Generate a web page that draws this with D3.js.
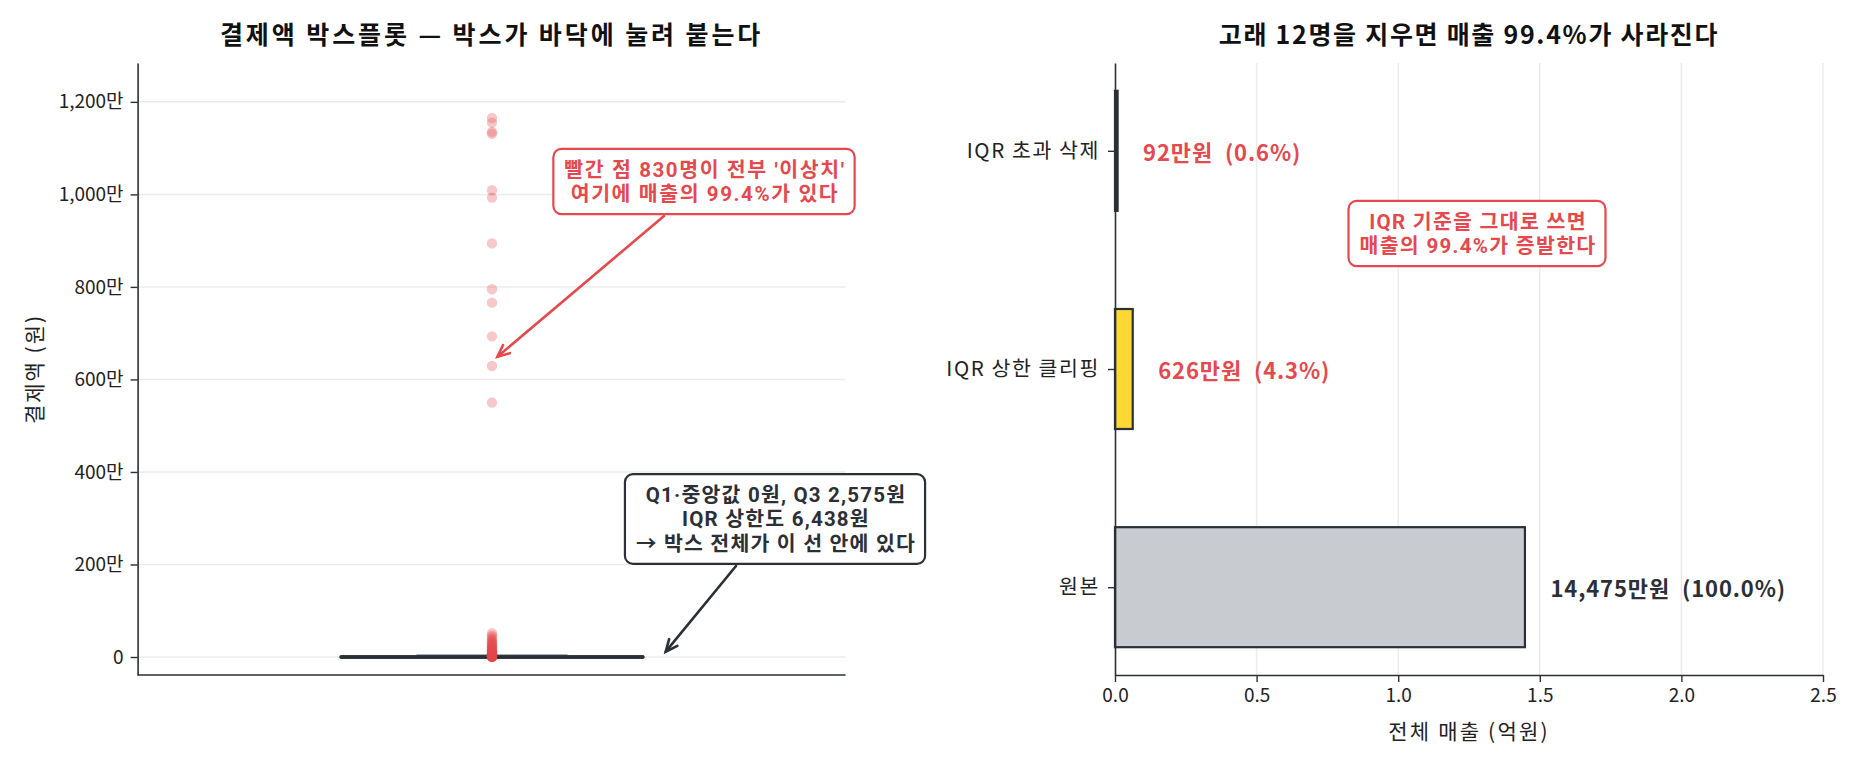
<!DOCTYPE html>
<html><head><meta charset="utf-8">
<script src="https://cdn.jsdelivr.net/npm/d3@7"></script>
<style>
body{margin:0;background:#fff;}
svg text{font-family:"Noto Sans CJK KR","Noto Sans",sans-serif;}
svg text.ann{font-family:Roboto,"Noto Sans CJK KR",sans-serif;}
</style></head><body>
<svg id="c" width="1860" height="765"></svg>
<script>
// ---------------- data ----------------
const yTicksWon = [0, 2000000, 4000000, 6000000, 8000000, 10000000, 12000000];
const yTickLabels = ["0", "200만", "400만", "600만", "800만", "1,000만", "1,200만"];
const boxQ1 = 0, boxMedian = 0, boxQ3 = 2575, whiskerLow = 0, whiskerHigh = 6438;
// 12 whales (won)
const whaleWon = [11650000, 11550000, 11350000, 11310000, 10090000, 9930000, 8940000, 7950000, 7660000, 6930000, 6290000, 5500000];
// remaining small outliers (만원), read from the dense red column near 0
const smallOutlierManwon = [0.65, 0.7, 0.75, 0.8, 0.85, 0.9, 1.0, 1.1, 1.2, 1.3, 1.4, 1.5, 1.7, 1.9, 2.1, 2.3, 2.6, 2.9, 3.2, 3.5,
  3.9, 4.3, 4.8, 5.3, 5.9, 6.5, 7.2, 8.0, 8.8, 9.7, 10.6, 11.6, 12.7, 13.9, 15.1, 16.4, 17.8, 19.3, 20.8, 22.4,
  24.1, 25.9, 27.8, 29.8, 31.9, 34.2, 36.8, 39.6, 42.9, 46.8, 51.5];
const methods = ["원본", "IQR 상한 클리핑", "IQR 초과 삭제"];
const revenueEok = [1.4475, 0.0626, 0.0092];
const revenueLabels = ["14,475만원", "626만원", "92만원"];
const revenueShares = ["(100.0%)", "(4.3%)", "(0.6%)"];
const xTicksEok = [0, 0.5, 1.0, 1.5, 2.0, 2.5];

// ---------------- style ----------------
const C = {red: "#e5484d", dark: "#2b2f36", grid: "#ebebeb", gray: "#c8cbd0", yellow: "#fdd835", cap: "#aab0b7"};
const barFill = [C.gray, C.yellow, C.dark];
const labelColor = [C.dark, C.red, C.red];

const svg = d3.select("#c");

function styleAxis(g, fs) {
  g.select(".domain").attr("stroke", C.dark).attr("stroke-width", 1.6);
  g.selectAll(".tick line").attr("stroke", C.dark).attr("stroke-width", 1.4);
  g.selectAll(".tick text").attr("fill", "#222").attr("font-size", fs);
}

function arrow(x1, y1, x2, y2, color) {
  const ang = Math.atan2(y2 - y1, x2 - x1);
  const len = 13, spread = 0.42;
  svg.append("line").attr("x1", x1).attr("y1", y1).attr("x2", x2).attr("y2", y2)
    .attr("stroke", color).attr("stroke-width", 2.6).attr("stroke-linecap", "round");
  const p = [[x2 - len * Math.cos(ang - spread), y2 - len * Math.sin(ang - spread)], [x2, y2],
             [x2 - len * Math.cos(ang + spread), y2 - len * Math.sin(ang + spread)]];
  svg.append("path").attr("d", d3.line()(p)).attr("fill", "none").attr("stroke", color)
    .attr("stroke-width", 2.6).attr("stroke-linecap", "round").attr("stroke-linejoin", "miter");
}

function annot(cx, cy, lines, color, fs, ls) {
  const g = svg.append("g");
  const lh = 24.6;
  const t = g.append("text").attr("class", "ann").attr("text-anchor", "middle").attr("fill", color)
    .attr("font-size", fs).attr("font-weight", 700).attr("letter-spacing", ls);
  lines.forEach((s, i) => {
    t.append("tspan").attr("x", cx).attr("y", cy + (i - (lines.length - 1) / 2) * lh + fs * 0.36)
      .text(s);
  });
  const bb = t.node().getBBox();
  g.insert("rect", "text").attr("x", bb.x - 11).attr("y", cy - lines.length * lh / 2 - 8)
    .attr("width", bb.width + 20).attr("height", lines.length * lh + 16)
    .attr("rx", 8).attr("fill", "#fff").attr("stroke", color).attr("stroke-width", 2.2);
}

// ---------------- left panel: boxplot ----------------
const L = {x0: 137.6, x1: 845.6, y0: 63, y1: 675};
const yL = d3.scaleLinear().domain([-389000, 12840000]).range([L.y1, L.y0]);
const xL = d3.scaleLinear().domain([0.4125, 1.5862]).range([L.x0, L.x1]);

svg.append("g").selectAll("line").data(yTicksWon).join("line")
  .attr("x1", L.x0).attr("x2", L.x1).attr("y1", d => yL(d)).attr("y2", d => yL(d))
  .attr("stroke", C.grid).attr("stroke-width", 1.5);

const gyL = svg.append("g").attr("transform", `translate(${L.x0},0)`)
  .call(d3.axisLeft(yL).tickValues(yTicksWon).tickFormat((d, i) => yTickLabels[i]).tickSize(7).tickPadding(7).tickSizeOuter(0));
styleAxis(gyL, 19);
svg.append("line").attr("x1", L.x0).attr("x2", L.x1).attr("y1", L.y1).attr("y2", L.y1)
  .attr("stroke", C.dark).attr("stroke-width", 1.6);

// whiskers + caps
svg.append("line").attr("x1", xL(1)).attr("x2", xL(1)).attr("y1", yL(boxQ3)).attr("y2", yL(whiskerHigh))
  .attr("stroke", C.cap).attr("stroke-width", 2);
[whiskerHigh, whiskerLow].forEach(v => {
  svg.append("line").attr("x1", xL(0.875)).attr("x2", xL(1.125)).attr("y1", yL(v) - 1.5).attr("y2", yL(v) - 1.5)
    .attr("stroke", C.cap).attr("stroke-width", 2.5);
});
// box
svg.append("rect").attr("x", xL(0.75)).attr("width", xL(1.25) - xL(0.75))
  .attr("y", yL(boxQ3)).attr("height", Math.max(0.1, yL(boxQ1) - yL(boxQ3)))
  .attr("fill", C.gray).attr("stroke", C.dark).attr("stroke-width", 3.4).attr("stroke-linejoin", "round");
svg.append("line").attr("x1", xL(0.75)).attr("x2", xL(1.25)).attr("y1", yL(boxMedian)).attr("y2", yL(boxMedian))
  .attr("stroke", C.dark).attr("stroke-width", 3.6).attr("stroke-linecap", "round");

// outliers
const outliers = whaleWon.concat(smallOutlierManwon.map(v => v * 10000));
svg.append("g").selectAll("circle").data(outliers).join("circle")
  .attr("cx", xL(1)).attr("cy", d => yL(d)).attr("r", 5.2)
  .attr("fill", C.red).attr("fill-opacity", 0.3);

// axis label + title
svg.append("text").attr("transform", `translate(33,${(L.y0 + L.y1) / 2}) rotate(-90)`)
  .attr("text-anchor", "middle").attr("dominant-baseline", "central")
  .attr("font-size", 21).attr("letter-spacing", 2).attr("fill", "#222").text("결제액 (원)");
svg.append("text").attr("x", (L.x0 + L.x1) / 2).attr("y", 33).attr("text-anchor", "middle")
  .attr("dominant-baseline", "central").attr("font-size", 25).attr("letter-spacing", 2.9)
  .attr("font-weight", 700).attr("fill", "#111")
  .text("결제액 박스플롯 — 박스가 바닥에 눌려 붙는다");

// annotations (left)
annot(705, 181.5, ["빨간 점 830명이 전부 '이상치'", "여기에 매출의 99.4%가 있다"], C.red, 20.5, 1.6);
arrow(664, 216, xL(1.009), yL(6490000), C.red);
annot(776, 519, ["Q1·중앙값 0원, Q3 2,575원", "IQR 상한도 6,438원", "→ 박스 전체가 이 선 안에 있다"], C.dark, 20.5, 1.2);
arrow(736, 566, xL(1.288), yL(115000), C.dark);

// ---------------- right panel: revenue bars ----------------
const R = {x0: 1115, x1: 1823, y0: 63, y1: 675};
const xR = d3.scaleLinear().domain([0, 2.5]).range([R.x0, R.x1]);
const yR = d3.scaleLinear().domain([-0.4025, 2.4025]).range([R.y1, R.y0]);
const bh = 0.55;

svg.append("g").selectAll("line").data(xTicksEok.slice(1)).join("line")
  .attr("x1", d => xR(d)).attr("x2", d => xR(d)).attr("y1", R.y0).attr("y2", R.y1)
  .attr("stroke", C.grid).attr("stroke-width", 1.5);

svg.append("g").selectAll("rect").data(revenueEok).join("rect")
  .attr("x", xR(0)).attr("width", d => xR(d) - xR(0))
  .attr("y", (d, i) => yR(i + bh / 2)).attr("height", (d, i) => yR(i - bh / 2) - yR(i + bh / 2))
  .attr("fill", (d, i) => barFill[i]).attr("stroke", C.dark).attr("stroke-width", 2.2);

const gyR = svg.append("g").attr("transform", `translate(${R.x0},0)`)
  .call(d3.axisLeft(yR).tickValues([0, 1, 2]).tickFormat(i => methods[i]).tickSize(7).tickPadding(8).tickSizeOuter(0));
styleAxis(gyR, 20.5);
gyR.selectAll(".tick text").attr("letter-spacing", 1.6);
const gxR = svg.append("g").attr("transform", `translate(0,${R.y1})`)
  .call(d3.axisBottom(xR).tickValues(xTicksEok).tickFormat(d3.format(".1f")).tickSize(7).tickPadding(7).tickSizeOuter(0));
styleAxis(gxR, 19);

svg.append("g").selectAll("text").data(revenueEok).join("text")
  .attr("x", d => xR(d + 0.09)).attr("y", (d, i) => yR(i)).attr("dominant-baseline", "central")
  .attr("xml:space", "preserve").style("white-space", "pre")
  .attr("font-size", 22).attr("letter-spacing", 0.9).attr("font-weight", 700)
  .attr("fill", (d, i) => labelColor[i]).text((d, i) => revenueLabels[i] + "  " + revenueShares[i]);

svg.append("text").attr("x", (R.x0 + R.x1) / 2).attr("y", 730).attr("text-anchor", "middle")
  .attr("dominant-baseline", "central").attr("font-size", 21).attr("letter-spacing", 2.2)
  .attr("fill", "#222").text("전체 매출 (억원)");
svg.append("text").attr("x", (R.x0 + R.x1) / 2).attr("y", 33).attr("text-anchor", "middle")
  .attr("dominant-baseline", "central").attr("font-size", 25).attr("letter-spacing", 1.7)
  .attr("font-weight", 700).attr("fill", "#111")
  .text("고래 12명을 지우면 매출 99.4%가 사라진다");

annot(1478, 233.5, ["IQR 기준을 그대로 쓰면", "매출의 99.4%가 증발한다"], C.red, 20.5, 1.3);
</script>
</body></html>
